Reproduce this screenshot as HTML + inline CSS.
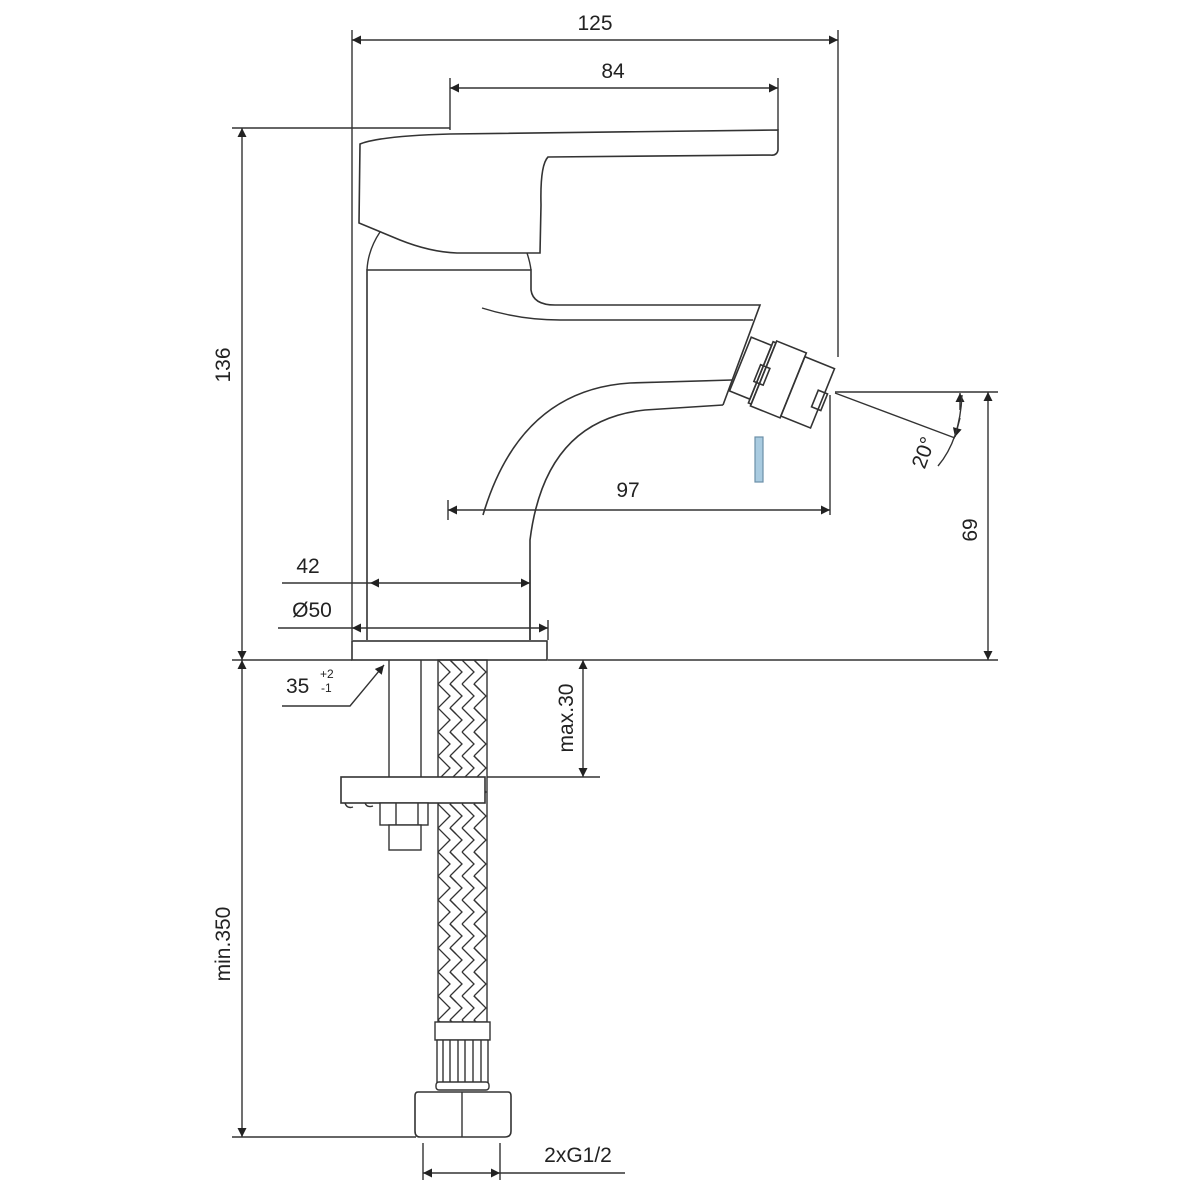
<!DOCTYPE html>
<html><head><meta charset="utf-8"><style>
html,body{margin:0;padding:0;background:#fff;}
svg{display:block;}
text{font-family:"Liberation Sans",sans-serif;fill:#222;}
</style></head><body>
<svg width="1200" height="1200" viewBox="0 0 1200 1200" xmlns="http://www.w3.org/2000/svg">
<defs>
<marker id="a" viewBox="0 0 10 10" refX="10" refY="5" markerWidth="16" markerHeight="9" markerUnits="userSpaceOnUse" orient="auto-start-reverse"><path d="M0,0 L10,5 L0,10 Z" fill="#222"/></marker>
<pattern id="braid" x="438" y="660" width="49" height="24" patternUnits="userSpaceOnUse">
<path d="M0,0 L12,12 L0,24 M12,0 L24,12 L12,24 M24,0 L36,12 L24,24 M36,0 L48,12 L36,24 M12,12 L0,24 M24,12 L12,24" fill="none" stroke="#333" stroke-width="1.3"/>
<path d="M6,-6 L18,6 M30,-6 L42,6" fill="none" stroke="#333" stroke-width="1.3"/>
</pattern>
</defs>
<g fill="none" stroke="#333" stroke-width="1.4">
<line x1="352" y1="30" x2="352" y2="640"/>
<line x1="838" y1="30" x2="838" y2="357"/>
<line x1="450" y1="78" x2="450" y2="130"/>
<line x1="778" y1="78" x2="778" y2="130"/>
<line x1="232" y1="128" x2="450" y2="128"/>
<line x1="232" y1="660" x2="352" y2="660"/>
<line x1="548" y1="660" x2="998" y2="660"/>
<line x1="835" y1="392" x2="998" y2="392"/>
<line x1="830" y1="395" x2="830" y2="515"/>
<line x1="448" y1="500" x2="448" y2="520"/>
<line x1="232" y1="1137" x2="416" y2="1137"/>
<line x1="423" y1="1143" x2="423" y2="1180"/>
<line x1="500" y1="1143" x2="500" y2="1180"/>
<line x1="530" y1="570" x2="530" y2="640"/>
<line x1="548" y1="620" x2="548" y2="640"/>
<line x1="487" y1="777" x2="600" y2="777"/>
<line x1="352" y1="40" x2="838" y2="40" marker-start="url(#a)" marker-end="url(#a)"/>
<line x1="450" y1="88" x2="778" y2="88" marker-start="url(#a)" marker-end="url(#a)"/>
<line x1="242" y1="128" x2="242" y2="660" marker-start="url(#a)" marker-end="url(#a)"/>
<line x1="242" y1="660" x2="242" y2="1137" marker-start="url(#a)" marker-end="url(#a)"/>
<line x1="988" y1="392" x2="988" y2="660" marker-start="url(#a)" marker-end="url(#a)"/>
<line x1="448" y1="510" x2="830" y2="510" marker-start="url(#a)" marker-end="url(#a)"/>
<line x1="282" y1="583" x2="370" y2="583"/>
<line x1="370" y1="583" x2="530" y2="583" marker-start="url(#a)" marker-end="url(#a)"/>
<line x1="278" y1="628" x2="352" y2="628"/>
<line x1="352" y1="628" x2="548" y2="628" marker-start="url(#a)" marker-end="url(#a)"/>
<line x1="583" y1="660" x2="583" y2="777" marker-start="url(#a)" marker-end="url(#a)"/>
<line x1="423" y1="1173" x2="500" y2="1173" marker-start="url(#a)" marker-end="url(#a)"/>
<line x1="500" y1="1173" x2="625" y2="1173"/>
<polyline points="282,706 350,706 384,665" marker-end="url(#a)"/>
<line x1="835" y1="393" x2="955" y2="438"/>
<line x1="960" y1="410" x2="960" y2="393" marker-end="url(#a)"/>
<line x1="960" y1="418" x2="955" y2="437" marker-end="url(#a)"/>
<path d="M962,395 Q960,440 938,466"/>
<path d="M360,144 Q380,136 450,134 L778,130 L778,150 Q777,156 770,155 L548,157 Q540,165 541,205 L540,253 L457,253 Q430,252 400,240 L359,223 Z" stroke-width="1.6"/>
<path d="M380,232 Q368,250 367,270 M527,253 Q530,262 531,270"/>
<path d="M367,640 L367,270 L531,270 L531,290 Q533,305 555,305 L760,305 L723,405" stroke-width="1.6"/>
<path d="M482,308 Q520,320 560,320 L753,320"/>
<path d="M483,515 Q520,390 630,383 L732,380" stroke-width="1.6"/>
<path d="M530,640 L530,540 Q545,420 645,410 L723,405" stroke-width="1.6"/>
<g transform="translate(740,365) rotate(22)" stroke-width="1.6">
<rect x="0" y="-30" width="22" height="58"/>
<rect x="22" y="-34" width="3" height="66"/>
<rect x="25" y="-36" width="32" height="70"/>
<rect x="57" y="-32" width="32" height="64"/>
<rect x="19" y="-8" width="10" height="18"/>
<rect x="82" y="-6" width="10" height="18"/>
</g>
<rect x="352" y="641" width="195" height="19" stroke-width="1.6"/>
<line x1="389" y1="660" x2="389" y2="777"/>
<line x1="421" y1="660" x2="421" y2="777"/>
<rect x="438" y="660" width="49" height="362" fill="url(#braid)"/>
<rect x="341" y="777" width="144" height="26" fill="#fff" stroke-width="1.6"/>
<path d="M345,803 q2,6 8,4 M365,803 q2,5 8,3 M395,803 q2,6 8,3"/>
<rect x="380" y="803" width="48" height="22" fill="#fff"/>
<line x1="396" y1="803" x2="396" y2="825"/>
<line x1="418" y1="803" x2="418" y2="825"/>
<rect x="389" y="825" width="32" height="25" fill="#fff"/>
<rect x="435" y="1022" width="55" height="18" fill="#fff"/>
<rect x="437" y="1040" width="51" height="44" fill="#fff"/>
<path d="M443,1040 V1084 M450,1040 V1084 M458,1040 V1084 M465,1040 V1084 M473,1040 V1084 M481,1040 V1084"/>
<rect x="436" y="1082" width="53" height="8" rx="3" fill="#fff"/>
<path d="M418,1092 L508,1092 Q511,1092 511,1096 L511,1131 Q511,1137 505,1137 L420,1137 Q415,1137 415,1131 L415,1096 Q415,1092 418,1092 Z" fill="#fff" stroke-width="1.6"/>
<line x1="462" y1="1092" x2="462" y2="1137"/>
</g>
<rect x="755" y="437" width="8" height="45" fill="#a9cbe0" stroke="#6c8fa8" stroke-width="1.2"/>
<text x="595" y="30" font-size="21" text-anchor="middle">125</text>
<text x="613" y="78" font-size="21" text-anchor="middle">84</text>
<text x="628" y="497" font-size="21" text-anchor="middle">97</text>
<text x="308" y="573" font-size="21" text-anchor="middle">42</text>
<text x="312" y="617" font-size="21" text-anchor="middle">Ø50</text>
<text x="286" y="693" font-size="21">35</text>
<text x="320" y="678" font-size="12">+2</text>
<text x="321" y="692" font-size="12">-1</text>
<text x="578" y="1162" font-size="21" text-anchor="middle">2xG1/2</text>
<text transform="translate(230,365) rotate(-90)" font-size="21" text-anchor="middle">136</text>
<text transform="translate(230,944) rotate(-90)" font-size="21" text-anchor="middle">min.350</text>
<text transform="translate(573,718) rotate(-90)" font-size="21" text-anchor="middle">max.30</text>
<text transform="translate(977,530) rotate(-90)" font-size="21" text-anchor="middle">69</text>
<text transform="translate(930,455) rotate(-70)" font-size="21" text-anchor="middle">20°</text>
</svg>
</body></html>
